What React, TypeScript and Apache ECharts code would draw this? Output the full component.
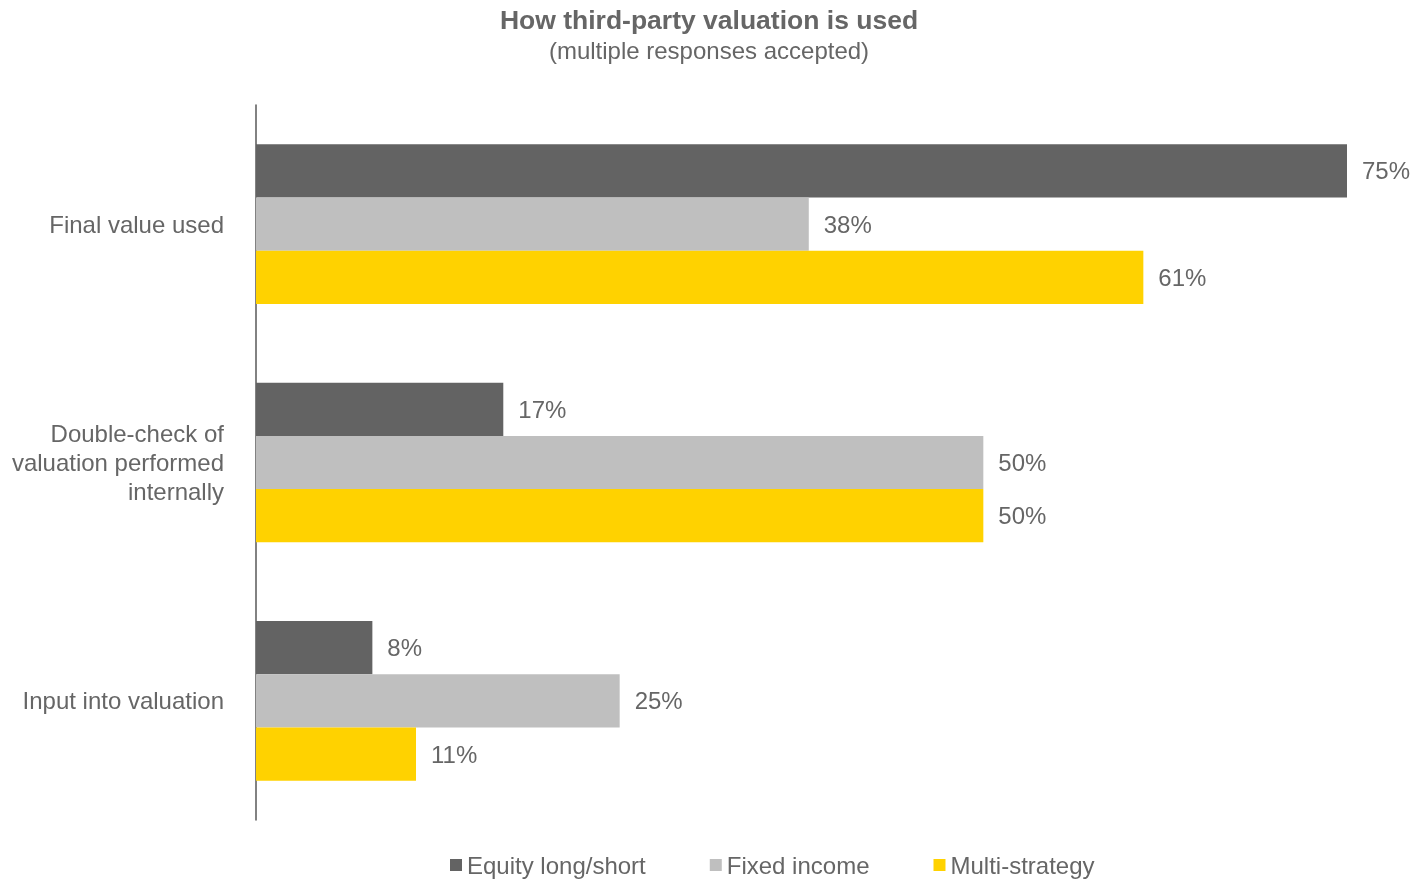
import React, { useEffect, useRef } from "react";
import * as echarts from "echarts";

const categories = ["Final value used", "Double-check of\nvaluation performed\ninternally", "Input into valuation"];
const seriesNames = ["Equity long/short", "Fixed income", "Multi-strategy"];
const equityLongShort = [75, 17, 8];
const fixedIncome = [38, 50, 25];
const multiStrategy = [61, 50, 11];
const seriesColors = ["#636363", "#bfbfbf", "#ffd200"];

export default function App() {
  const ref = useRef<HTMLDivElement>(null);
  useEffect(() => {
    if (!ref.current) return;
    const chart = echarts.init(ref.current, null, { renderer: "svg" });
    const font = "'Liberation Sans', Arial, sans-serif";
    const values = [equityLongShort, fixedIncome, multiStrategy];
    chart.setOption({
      animation: false,
      textStyle: { fontFamily: font },
      title: {
        text: "How third-party valuation is used",
        subtext: "(multiple responses accepted)",
        left: "center",
        top: 1,
        itemGap: 5,
        textStyle: { fontFamily: font, fontSize: 26.5, fontWeight: "bold", color: "#666666" },
        subtextStyle: { fontFamily: font, fontSize: 24, color: "#666666" },
      },
      legend: {
        bottom: 0,
        left: 445,
        itemWidth: 12,
        itemHeight: 12,
        itemGap: 64,
        icon: "rect",
        textStyle: { fontFamily: font, fontSize: 24, color: "#666666" },
        data: seriesNames,
      },
      grid: { left: 256, right: 71, top: 105, bottom: 62, containLabel: false },
      xAxis: { type: "value", min: 0, max: 75, show: false },
      yAxis: {
        type: "category",
        inverse: true,
        data: categories,
        axisLine: { show: true, lineStyle: { color: "#595959", width: 1.5 } },
        axisTick: { show: false },
        axisLabel: { fontFamily: font, fontSize: 24, color: "#666666", lineHeight: 29, margin: 32, align: "right" },
      },
      series: seriesNames.map((name, i) => ({
        name,
        type: "bar",
        data: values[i],
        barGap: "0%",
        barCategoryGap: "33%",
        itemStyle: { color: seriesColors[i] },
        label: {
          show: true,
          position: "right",
          distance: 15,
          formatter: "{c}%",
          fontFamily: font,
          fontSize: 24,
          color: "#666666",
        },
      })),
    });
    return () => chart.dispose();
  }, []);
  return <div ref={ref} style={{ position: "fixed", left: 0, top: 0, width: 1418, height: 882 }} />;
}
